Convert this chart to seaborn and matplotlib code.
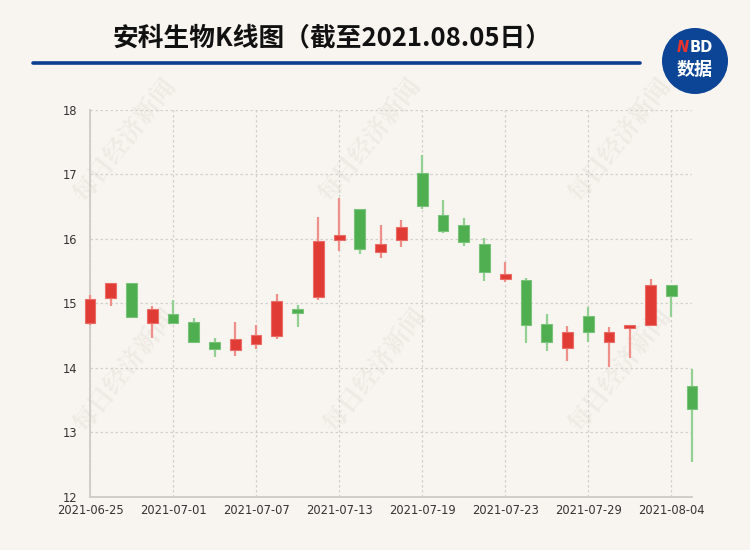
import matplotlib
matplotlib.use("Agg")
import matplotlib.pyplot as plt
from matplotlib.patches import Ellipse
import seaborn as sns
import pandas as pd

dates = [
    "2021-06-25", "2021-06-28", "2021-06-29", "2021-06-30", "2021-07-01",
    "2021-07-02", "2021-07-05", "2021-07-06", "2021-07-07", "2021-07-08",
    "2021-07-09", "2021-07-12", "2021-07-13", "2021-07-14", "2021-07-15",
    "2021-07-16", "2021-07-19", "2021-07-20", "2021-07-21", "2021-07-22",
    "2021-07-23", "2021-07-26", "2021-07-27", "2021-07-28", "2021-07-29",
    "2021-07-30", "2021-08-02", "2021-08-03", "2021-08-04", "2021-08-05",
]
opens = [14.70, 15.08, 15.31, 14.69, 14.84, 14.71, 14.40, 14.28, 14.37, 14.49,
         14.92, 15.10, 15.98, 16.46, 15.80, 15.99, 17.02, 16.37, 16.22, 15.93,
         15.38, 15.36, 14.68, 14.31, 14.80, 14.41, 14.62, 14.66, 15.28, 13.72]
closes = [15.07, 15.31, 14.79, 14.91, 14.70, 14.40, 14.29, 14.45, 14.51, 15.04,
          14.86, 15.97, 16.06, 15.84, 15.93, 16.18, 16.51, 16.13, 15.96, 15.49,
          15.45, 14.67, 14.40, 14.56, 14.56, 14.56, 14.66, 15.29, 15.11, 13.36]
highs = [15.13, 15.31, 15.31, 14.96, 15.05, 14.78, 14.47, 14.71, 14.66, 15.14,
         14.98, 16.34, 16.64, 16.46, 16.21, 16.29, 17.31, 16.61, 16.33, 16.02,
         15.64, 15.39, 14.83, 14.65, 14.95, 14.64, 14.66, 15.38, 15.28, 13.99]
lows = [14.66, 14.96, 14.79, 14.46, 14.70, 14.40, 14.17, 14.18, 14.30, 14.45,
        14.64, 15.06, 15.81, 15.76, 15.71, 15.88, 16.47, 16.10, 15.89, 15.35,
        15.34, 14.38, 14.26, 14.11, 14.41, 14.02, 14.15, 14.65, 14.79, 12.54]

df = pd.DataFrame({"date": dates, "open": opens, "close": closes,
                   "high": highs, "low": lows})
df["pos"] = range(len(df))
df["up"] = df["close"] >= df["open"]

BG = "#f8f5f0"
RED, RED_WICK, RED_EDGE = "#e03c35", "#ee8f8a", "#ea6c66"
GREEN, GREEN_WICK, GREEN_EDGE = "#4fae50", "#93d093", "#79c27a"

sns.set_theme(style="white", rc={"axes.facecolor": BG, "figure.facecolor": BG})
plt.rcParams["font.family"] = ["DejaVu Sans", "Noto Sans CJK SC"]

fig = plt.figure(figsize=(7.5, 5.5), dpi=100)
ax = fig.add_axes([0.12, 0.0964, 0.8027, 0.7036])
ax.patch.set_alpha(0)

# watermarks, behind the axes
for wx, wy in [(125, 140), (370, 140), (620, 140), (125, 370), (375, 370), (620, 370)]:
    fig.text(wx / 750, 1 - wy / 550, "每日经济新闻", rotation=52, ha="center", va="center",
             fontsize=18, fontweight="bold", color="#eeeae4",
             family=["Noto Serif CJK SC", "Noto Sans CJK SC"], zorder=-5)

# wicks and bodies
for up, body_c, wick_c, edge_c in [(True, RED, RED_WICK, RED_EDGE),
                                   (False, GREEN, GREEN_WICK, GREEN_EDGE)]:
    sub = df[df["up"] == up]
    ax.vlines(sub["pos"], sub["low"], sub["high"], color=wick_c, linewidth=1.6,
              zorder=3, clip_on=False)
    lo = sub[["open", "close"]].min(axis=1)
    hi = sub[["open", "close"]].max(axis=1)
    ax.bar(sub["pos"], (hi - lo).clip(lower=0.04), bottom=lo, width=0.52,
           color=body_c, edgecolor=edge_c, linewidth=0.8, zorder=4, clip_on=False)

ax.set_xlim(0, len(df) - 1)
ax.set_ylim(12, 18)
ax.set_yticks(range(12, 19))
tick_pos = list(range(0, len(df), 4))
ax.set_xticks(tick_pos)
ax.set_xticklabels([dates[i] for i in tick_pos])

ax.grid(True, color="#d2d0cc", linestyle=(0, (2, 2)), linewidth=0.9)
ax.set_axisbelow(True)
for s in ["top", "right"]:
    ax.spines[s].set_visible(False)
for s in ["left", "bottom"]:
    ax.spines[s].set_color("#d0cdc8")
    ax.spines[s].set_linewidth(1.4)
ax.tick_params(axis="both", length=0, labelsize=8.3, colors="#333333")
ax.tick_params(axis="y", pad=9)
ax.tick_params(axis="x", pad=5)

# title, rule and logo
fig.text(332 / 750, 1 - 38 / 550, "安科生物K线图（截至2021.08.05日）", ha="center", va="center",
         fontsize=18.5, fontweight="bold", color="#111111",
         family=["Noto Sans CJK SC", "DejaVu Sans"])
fig.add_artist(plt.Line2D([33 / 750, 640 / 750], [1 - 63 / 550, 1 - 63 / 550],
                          color="#0d3f91", linewidth=2.6))
fig.add_artist(Ellipse((695 / 750, 1 - 61 / 550), 66 / 750, 66 / 550,
                       facecolor="#0c4595", edgecolor="none"))
fig.text(683 / 750, 1 - 47 / 550, "N", ha="center", va="center", fontsize=10.5,
         fontweight="bold", fontstyle="italic", color="#e8342e")
fig.text(701 / 750, 1 - 47 / 550, "BD", ha="center", va="center", fontsize=10.5,
         fontweight="bold", color="white")
fig.text(695 / 750, 1 - 69 / 550, "数据", ha="center", va="center", fontsize=13,
         fontweight="bold", color="white", family=["Noto Sans CJK SC"])

fig.savefig("out.png", dpi=100, facecolor=BG)
